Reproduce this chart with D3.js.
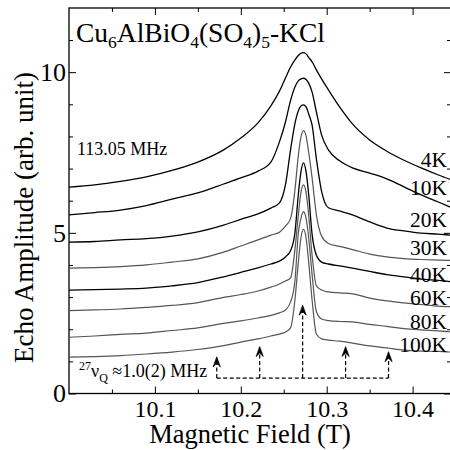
<!DOCTYPE html>
<html><head><meta charset="utf-8">
<script src="https://cdn.jsdelivr.net/npm/d3@7"></script>
<style>body{margin:0;background:#fff} svg{display:block}</style>
</head><body><svg id="c" width="450" height="450"></svg>
<script>
// ---------- data ----------
const field = [10.000, 10.030, 10.060, 10.090, 10.120, 10.150, 10.180, 10.200, 10.220, 10.235, 10.245, 10.252, 10.258, 10.263, 10.267, 10.270, 10.273, 10.276, 10.279, 10.283, 10.288, 10.294, 10.302, 10.315, 10.330, 10.350, 10.370, 10.390, 10.410, 10.430, 10.444];
const temps = ["4K", "10K", "20K", "30K", "40K", "60K", "80K", "100K"];
const amp4K  = [6.42, 6.49, 6.60, 6.74, 6.94, 7.20, 7.58, 7.95, 8.42, 8.95, 9.41, 9.82, 10.16, 10.38, 10.52, 10.59, 10.61, 10.57, 10.46, 10.32, 10.07, 9.79, 9.45, 8.92, 8.39, 7.89, 7.54, 7.26, 7.02, 6.80, 6.66];
const amp10K = [5.56, 5.63, 5.71, 5.85, 6.05, 6.24, 6.52, 6.71, 6.92, 7.20, 7.83, 8.45, 9.13, 9.54, 9.73, 9.79, 9.81, 9.77, 9.66, 9.38, 8.76, 8.05, 7.58, 7.24, 7.02, 6.86, 6.68, 6.43, 6.18, 5.96, 5.80];
const amp20K = [4.71, 4.73, 4.78, 4.82, 4.90, 5.03, 5.24, 5.42, 5.59, 5.77, 5.93, 6.50, 7.60, 8.40, 8.80, 8.95, 8.98, 8.92, 8.70, 8.35, 7.30, 6.30, 5.78, 5.68, 5.56, 5.34, 5.15, 5.06, 4.99, 4.96, 4.93];
const amp30K = [3.90, 3.92, 3.95, 4.00, 4.09, 4.19, 4.40, 4.59, 4.78, 4.93, 5.02, 5.21, 5.45, 6.33, 7.42, 7.98, 8.18, 8.01, 7.51, 6.71, 5.56, 4.90, 4.67, 4.58, 4.48, 4.34, 4.25, 4.20, 4.17, 4.15, 4.14];
const amp40K = [3.22, 3.23, 3.25, 3.28, 3.35, 3.45, 3.63, 3.77, 3.91, 4.03, 4.12, 4.25, 4.45, 5.00, 6.20, 6.90, 7.18, 6.90, 6.20, 4.95, 4.30, 4.09, 4.03, 3.97, 3.90, 3.80, 3.70, 3.63, 3.56, 3.52, 3.48];
const amp60K = [2.58, 2.60, 2.63, 2.68, 2.74, 2.83, 2.99, 3.08, 3.19, 3.31, 3.41, 3.50, 3.60, 4.47, 5.56, 6.25, 6.49, 6.25, 5.56, 4.30, 3.35, 3.22, 3.16, 3.13, 3.10, 2.97, 2.88, 2.82, 2.77, 2.72, 2.70];
const amp80K = [1.75, 1.79, 1.84, 1.88, 1.96, 2.04, 2.18, 2.26, 2.35, 2.43, 2.51, 2.60, 2.85, 3.50, 5.00, 5.45, 5.66, 5.45, 4.85, 3.70, 2.55, 2.32, 2.27, 2.24, 2.23, 2.15, 2.09, 2.02, 1.98, 1.95, 1.92];
const amp100K= [1.13, 1.15, 1.18, 1.23, 1.29, 1.37, 1.49, 1.60, 1.70, 1.79, 1.85, 1.91, 2.05, 2.91, 4.09, 4.84, 5.11, 4.84, 4.09, 2.91, 1.85, 1.70, 1.66, 1.63, 1.57, 1.48, 1.42, 1.35, 1.32, 1.31, 1.29];
const xTicks = [10.1, 10.2, 10.3, 10.4];
const xMinor = [10.05, 10.15, 10.25, 10.35];
const yTicks = [0, 5, 10];
const yMinor = [1, 2, 3, 4, 6, 7, 8, 9, 11];
const satelliteFields = [10.172, 10.222, 10.272, 10.322, 10.372];
const arrowTips = [1.14, 1.46, 2.75, 1.46, 1.30];
const arrowBase = 0.48;

// ---------- drawing ----------
const series = [amp4K, amp10K, amp20K, amp30K, amp40K, amp60K, amp80K, amp100K];
const colors = ["#000", "#000", "#000", "#555", "#000", "#555", "#555", "#555"];
const labelY = [167, 195, 227, 255, 282, 305, 329, 352];
const FONT = "'Liberation Serif','Times New Roman',serif";

const svg = d3.select("#c").style("font-family", FONT);
const L = 69, R = 451, T = 8, B = 393.5;
const x = d3.scaleLinear().domain([10.0, 10.4447]).range([L, R]);
const y = d3.scaleLinear().domain([0, 12]).range([B, 7.9]);

function clean(g) { g.select(".domain").remove(); g.selectAll("line").attr("stroke", "#000").attr("stroke-width", 1); }

// bottom
svg.append("g").attr("transform", `translate(0,${B})`)
  .call(d3.axisBottom(x).tickValues(xTicks).tickSize(-7).tickPadding(6).tickFormat(d3.format(".1f")))
  .call(clean).call(g => g.selectAll("text").attr("font-size", 24).attr("font-family", FONT).attr("fill", "#000"));
svg.append("g").attr("transform", `translate(0,${B})`)
  .call(d3.axisBottom(x).tickValues(xMinor).tickSize(-4).tickFormat("")).call(clean);
// top
svg.append("g").attr("transform", `translate(0,${T})`)
  .call(d3.axisTop(x).tickValues(xTicks).tickSize(-7).tickFormat("")).call(clean);
svg.append("g").attr("transform", `translate(0,${T})`)
  .call(d3.axisTop(x).tickValues(xMinor).tickSize(-4).tickFormat("")).call(clean);
// left
svg.append("g").attr("transform", `translate(${L},0)`)
  .call(d3.axisLeft(y).tickValues(yTicks).tickSize(-7).tickPadding(3).tickFormat(d3.format("d")))
  .call(clean).call(g => g.selectAll("text").attr("font-size", 26).attr("font-family", FONT).attr("fill", "#000"));
svg.append("g").attr("transform", `translate(${L},0)`)
  .call(d3.axisLeft(y).tickValues(yMinor).tickSize(-4).tickFormat("")).call(clean);
// right
svg.append("g").attr("transform", `translate(${R},0)`)
  .call(d3.axisRight(y).tickValues(yTicks).tickSize(-7).tickFormat("")).call(clean);
svg.append("g").attr("transform", `translate(${R},0)`)
  .call(d3.axisRight(y).tickValues(yMinor).tickSize(-4).tickFormat("")).call(clean);

svg.append("rect").attr("x", L).attr("y", T).attr("width", R - L).attr("height", B - T)
  .attr("fill", "none").attr("stroke", "#000").attr("stroke-width", 1.3);

// curves
const line = d3.line().x((d, i) => x(field[i])).y(d => y(d)).curve(d3.curveMonotoneX);
svg.append("g").selectAll("path").data(series).join("path")
  .attr("d", d => line(d)).attr("fill", "none")
  .attr("stroke", (d, i) => colors[i]).attr("stroke-width", (d, i) => colors[i] === "#000" ? 1.3 : 1.2);

// temperature labels
svg.append("g").selectAll("text").data(temps).join("text")
  .attr("x", 447).attr("y", (d, i) => labelY[i]).attr("text-anchor", "end")
  .attr("font-size", 21.5).text(d => d);

// satellite arrows
const ag = svg.append("g").attr("stroke", "#000").attr("stroke-width", 1.2);
ag.append("line").attr("x1", x(satelliteFields[0])).attr("x2", x(satelliteFields[satelliteFields.length - 1]))
  .attr("y1", y(arrowBase)).attr("y2", y(arrowBase)).attr("stroke-dasharray", "4,2.5");
satelliteFields.forEach((f, i) => {
  const px = x(f), tip = y(arrowTips[i]);
  ag.append("line").attr("x1", px).attr("x2", px).attr("y1", y(arrowBase)).attr("y2", tip + 5)
    .attr("stroke-dasharray", "4,2.5");
  ag.append("path").attr("d", `M${px - 3.6},${tip + 10} L${px},${tip} L${px + 3.6},${tip + 10} L${px},${tip + 6.5} Z`)
    .attr("fill", "#000").attr("stroke-width", 0.7);
});

// texts
const title = svg.append("text").attr("x", 76).attr("y", 42).attr("font-size", 27.5);
[["Cu",0],["6",1],["AlBiO",0],["4",1],["(SO",0],["4",1],[")",0],["5",1],["-KCl",0]].forEach(([t, s], i, arr) => {
  const prevSub = i > 0 && arr[i - 1][1];
  title.append("tspan").attr("font-size", s ? 17.5 : 27.5)
    .attr("dy", s ? 6 : (prevSub ? -6 : 0)).text(t);
});

svg.append("text").attr("x", 77).attr("y", 155).attr("font-size", 18).text("113.05 MHz");

const ann = svg.append("text").attr("x", 79).attr("y", 377).attr("font-size", 18);
ann.append("tspan").attr("font-size", 12).attr("dy", -7).text("27");
ann.append("tspan").attr("dy", 7).text("ν");
ann.append("tspan").attr("font-size", 12).attr("dy", 5).text("Q");
ann.append("tspan").attr("dy", -5).text(" ≈1.0(2) MHz");

svg.append("text").attr("x", 250).attr("y", 443).attr("text-anchor", "middle")
  .attr("font-size", 26.5).text("Magnetic Field (T)");
svg.append("text").attr("transform", "translate(33,217.5) rotate(-90)").attr("text-anchor", "middle")
  .attr("font-size", 27).text("Echo Amplitude (arb. unit)");
</script></body></html>
